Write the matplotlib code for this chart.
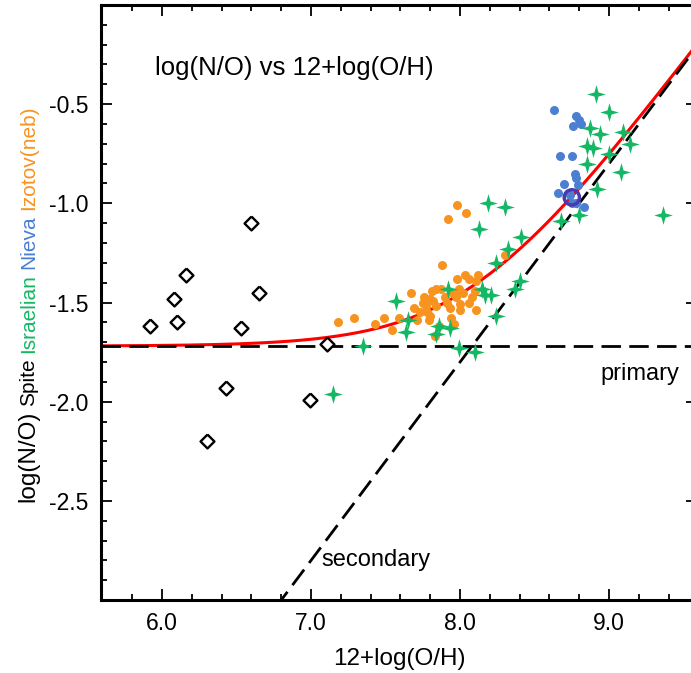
import numpy as np
import matplotlib
matplotlib.use("Agg")
import matplotlib.pyplot as plt
from matplotlib.ticker import MultipleLocator, FixedLocator

plt.rcParams['font.family'] = ['Liberation Sans', 'DejaVu Sans']

# Spite (open diamonds)
spite_oh = [5.92, 6.08, 6.10, 6.16, 6.60, 6.65, 6.53, 6.43, 6.30, 6.99, 7.11]
spite_no = [-1.62, -1.48, -1.60, -1.36, -1.10, -1.45, -1.63, -1.93, -2.20, -1.99, -1.71]

# Izotov (neb), orange dots
izotov_oh = [7.18, 7.29, 7.43, 7.49, 7.54, 7.59, 7.67, 7.69, 7.71, 7.73, 7.75, 7.76,
             7.77, 7.78, 7.79, 7.80, 7.80, 7.81, 7.82, 7.83, 7.84, 7.84, 7.86, 7.87,
             7.88, 7.90, 7.91, 7.92, 7.93, 7.94, 7.95, 7.96, 7.97, 7.98, 7.98, 7.99,
             8.00, 8.00, 8.02, 8.03, 8.04, 8.06, 8.06, 8.08, 8.10, 8.11, 8.11, 8.12, 8.30]
izotov_no = [-1.60, -1.58, -1.61, -1.58, -1.64, -1.58, -1.45, -1.53, -1.59, -1.55, -1.50, -1.47,
             -1.52, -1.55, -1.59, -1.48, -1.57, -1.44, -1.49, -1.67, -1.52, -1.43, -1.62, -1.43,
             -1.31, -1.47, -1.50, -1.08, -1.53, -1.58, -1.45, -1.61, -1.47, -1.38, -1.01, -1.43,
             -1.51, -1.54, -1.45, -1.36, -1.05, -1.38, -1.50, -1.47, -1.44, -1.54, -1.39, -1.36, -1.26]

# Nieva, blue dots
nieva_oh = [8.63, 8.78, 8.80, 8.76, 8.81, 8.67, 8.75, 8.77, 8.78, 8.70, 8.79, 8.66,
            8.74, 8.75, 8.78, 8.83]
nieva_no = [-0.53, -0.56, -0.58, -0.61, -0.60, -0.76, -0.76, -0.85, -0.87, -0.90, -0.91, -0.95,
            -0.96, -1.00, -1.00, -1.02]

# Israelian, green stars
isr_oh = [7.15, 7.35, 7.57, 7.64, 7.65, 7.84, 7.86, 7.92, 7.93, 7.99, 8.10, 8.13, 8.15, 8.17,
          8.19, 8.21, 8.24, 8.24, 8.30, 8.32, 8.37, 8.40, 8.41, 8.68, 8.80, 8.85, 8.85, 8.87,
          8.89, 8.91, 8.92, 8.94, 9.00, 9.00, 9.08, 9.09, 9.14, 9.36]
isr_no = [-1.96, -1.72, -1.49, -1.65, -1.59, -1.66, -1.62, -1.43, -1.63, -1.73, -1.75, -1.13, -1.43, -1.46,
          -1.00, -1.46, -1.30, -1.57, -1.02, -1.23, -1.43, -1.39, -1.17, -1.09, -1.06, -0.71, -0.80, -0.62,
          -0.72, -0.45, -0.93, -0.65, -0.54, -0.75, -0.84, -0.64, -0.70, -1.06]

# solar point
sun_oh, sun_no = 8.75, -0.97

# model lines: primary plateau and secondary slope-1 line
primary_level = -1.72
secondary_offset = -9.8

green = '#14b764'
blue = '#4a7fd2'
orange = '#f7931e'

fig = plt.figure(figsize=(6.91, 6.73), dpi=100)
# right spine sits just outside the image, as in the original crop
ax = fig.add_axes([101/691, 73/673, 596/691, 595/673])
xmin, xmax = 5.59, 9.59
ax.set_xlim(xmin, xmax)
ax.set_ylim(-3.0, 0.0)

xx = np.linspace(xmin, xmax, 400)
sec = xx + secondary_offset
total = np.log10(10**primary_level + 10**sec)
ax.plot(xx, total, color='red', lw=2.2, zorder=2)
ax.axhline(primary_level, color='black', lw=2.0, dashes=(7, 3), zorder=3)
ax.plot(xx, sec, color='black', lw=2.0, dashes=(7, 3), zorder=3)

star = [(0, 1), (0.22, 0.22), (1, 0), (0.22, -0.22), (0, -1), (-0.22, -0.22), (-1, 0), (-0.22, 0.22), (0, 1)]
diamond = [(0, 1), (1, 0), (0, -1), (-1, 0), (0, 1)]

ax.scatter(spite_oh, spite_no, marker=diamond, s=100, facecolor='white', edgecolor='black',
           linewidths=1.7, zorder=4)
ax.scatter(izotov_oh, izotov_no, s=42, color=orange, linewidths=0, zorder=4)
ax.scatter(nieva_oh, nieva_no, s=42, color=blue, linewidths=0, zorder=4)
ax.scatter(isr_oh, isr_no, marker=star, s=180, color=green, linewidths=0, zorder=5)
ax.scatter([sun_oh], [sun_no], s=120, facecolor='none', edgecolor='#4a3ab0', linewidths=2.5, zorder=6)

ax.xaxis.set_major_locator(FixedLocator([6, 7, 8, 9]))
ax.xaxis.set_minor_locator(MultipleLocator(0.2))
ax.set_xticklabels(['6.0', '7.0', '8.0', '9.0'])
ax.yaxis.set_major_locator(FixedLocator([-2.5, -2.0, -1.5, -1.0, -0.5]))
ax.yaxis.set_minor_locator(MultipleLocator(0.1))
ax.set_yticklabels(['-2.5', '-2.0', '-1.5', '-1.0', '-0.5'])
ax.tick_params(which='both', direction='in', top=True, right=True, width=1.3, labelsize=16.5)
ax.tick_params(which='major', length=8, pad=9)
ax.tick_params(which='minor', length=4.5)
for sp in ax.spines.values():
    sp.set_linewidth(2.2)

ax.set_xlabel('12+log(O/H)', fontsize=17.5, labelpad=9)

ax.text(0.091, 0.894, 'log(N/O) vs 12+log(O/H)', transform=ax.transAxes, fontsize=18.5,
        ha='left', va='center')
ax.text(0.838, 0.380, 'primary', transform=ax.transAxes, fontsize=17, ha='left', va='center')
ax.text(0.370, 0.067, 'secondary', transform=ax.transAxes, fontsize=17, ha='left', va='center')

# composite y label, stacked bottom to top
pieces = [('log(N/O)', 'black', 17.5), ('Spite', 'black', 15), ('Israelian', green, 15),
          ('Nieva', blue, 15), ('Izotov(neb)', orange, 15)]
fig.canvas.draw()
renderer = fig.canvas.get_renderer()
ypos = 171
xpos = 34
for txt, col, fs in pieces:
    t = fig.text(xpos / 691, ypos / 673, txt, color=col, fontsize=fs, rotation=90,
                 rotation_mode='anchor', ha='left', va='baseline')
    bb = t.get_window_extent(renderer)
    ypos = bb.y1 + 5

fig.savefig('out.png', dpi=100)
